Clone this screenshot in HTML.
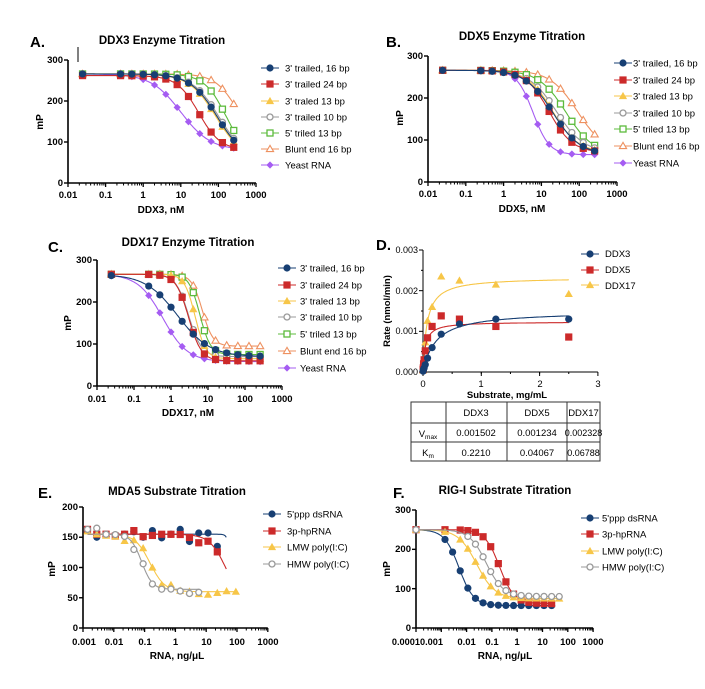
<!DOCTYPE html>
<html><head><meta charset="utf-8"><style>
html,body{margin:0;padding:0;background:#fff;}
svg{display:block;font-family:"Liberation Sans",Arial,sans-serif;}
.t{font-weight:bold;font-size:11.5px;text-anchor:middle;}
.p{font-weight:bold;font-size:15px;}
.yl{font-weight:bold;font-size:9.5px;text-anchor:end;}
.xl{font-weight:bold;font-size:9.5px;text-anchor:middle;}
.ax{font-weight:bold;font-size:10px;text-anchor:middle;}
.lg{font-size:9.5px;}
.tb{font-size:9.5px;text-anchor:middle;}
</style></head><body>
<svg id="s" width="705" height="689" viewBox="0 0 705 689">
<rect width="705" height="689" fill="#fff"/>
<g id="g"></g>
<!-- Panel A -->
<text class="p" x="30" y="47">A.</text>
<text class="t" x="162" y="44">DDX3 Enzyme Titration</text>
<line x1="78" y1="47" x2="78" y2="62" stroke="#000" stroke-width="1"/>
<text class="yl" x="63" y="63">300</text><text class="yl" x="63" y="104">200</text><text class="yl" x="63" y="145">100</text><text class="yl" x="63" y="186">0</text>
<text class="xl" x="68" y="198">0.01</text><text class="xl" x="105.6" y="198">0.1</text><text class="xl" x="143" y="198">1</text><text class="xl" x="181" y="198">10</text><text class="xl" x="218.5" y="198">100</text><text class="xl" x="256" y="198">1000</text>
<text class="ax" x="161" y="213">DDX3, nM</text>
<text class="ax" transform="translate(43,122) rotate(-90)">mP</text>
<text class="lg" x="285" y="71.5">3' trailed, 16 bp</text><text class="lg" x="285" y="87.5">3' trailed 24 bp</text><text class="lg" x="285" y="104.5">3' traled 13 bp</text><text class="lg" x="285" y="120.5">3' trailed 10 bp</text><text class="lg" x="285" y="136.5">5' triled 13 bp</text><text class="lg" x="285" y="152.5">Blunt end 16 bp</text><text class="lg" x="285" y="168.5">Yeast RNA</text>
<!-- Panel B -->
<text class="p" x="386" y="47">B.</text>
<text class="t" x="522" y="40">DDX5 Enzyme Titration</text>
<text class="yl" x="423" y="59">300</text><text class="yl" x="423" y="101">200</text><text class="yl" x="423" y="143">100</text><text class="yl" x="423" y="185">0</text>
<text class="xl" x="428" y="197">0.01</text><text class="xl" x="465.8" y="197">0.1</text><text class="xl" x="503.6" y="197">1</text><text class="xl" x="541.4" y="197">10</text><text class="xl" x="579.2" y="197">100</text><text class="xl" x="617" y="197">1000</text>
<text class="ax" x="522" y="212">DDX5, nM</text>
<text class="ax" transform="translate(403,118) rotate(-90)">mP</text>
<text class="lg" x="633" y="66.5">3' trailed, 16 bp</text><text class="lg" x="633" y="83.5">3' trailed 24 bp</text><text class="lg" x="633" y="99.5">3' traled 13 bp</text><text class="lg" x="633" y="116.5">3' trailed 10 bp</text><text class="lg" x="633" y="132.5">5' triled 13 bp</text><text class="lg" x="633" y="149.5">Blunt end 16 bp</text><text class="lg" x="633" y="166.5">Yeast RNA</text>
<!-- Panel C -->
<text class="p" x="48" y="252">C.</text>
<text class="t" x="188" y="246">DDX17 Enzyme Titration</text>
<text class="yl" x="92" y="263">300</text><text class="yl" x="92" y="305">200</text><text class="yl" x="92" y="347">100</text><text class="yl" x="92" y="389">0</text>
<text class="xl" x="97" y="402">0.01</text><text class="xl" x="134" y="402">0.1</text><text class="xl" x="171" y="402">1</text><text class="xl" x="208" y="402">10</text><text class="xl" x="245" y="402">100</text><text class="xl" x="282" y="402">1000</text>
<text class="ax" x="188" y="416">DDX17, nM</text>
<text class="ax" transform="translate(71,323) rotate(-90)">mP</text>
<text class="lg" x="300" y="271.5">3' trailed, 16 bp</text><text class="lg" x="300" y="288.5">3' trailed 24 bp</text><text class="lg" x="300" y="304.5">3' traled 13 bp</text><text class="lg" x="300" y="320.5">3' trailed 10 bp</text><text class="lg" x="300" y="337.5">5' triled 13 bp</text><text class="lg" x="300" y="354.5">Blunt end 16 bp</text><text class="lg" x="300" y="371.5">Yeast RNA</text>
<!-- Panel D -->
<text class="p" x="376" y="250">D.</text>
<text class="yl" x="418" y="253" style="font-weight:normal;font-size:9px">0.003</text><text class="yl" x="418" y="294" style="font-weight:normal;font-size:9px">0.002</text><text class="yl" x="418" y="334" style="font-weight:normal;font-size:9px">0.001</text><text class="yl" x="418" y="375" style="font-weight:normal;font-size:9px">0.000</text>
<text class="xl" x="423" y="387" style="font-weight:normal">0</text><text class="xl" x="481" y="387" style="font-weight:normal">1</text><text class="xl" x="540" y="387" style="font-weight:normal">2</text><text class="xl" x="598" y="387" style="font-weight:normal">3</text>
<text class="ax" x="507" y="398" style="font-size:9.5px">Substrate, mg/mL</text>
<text class="ax" transform="translate(390,311) rotate(-90)" style="font-size:9.5px">Rate (nmol/min)</text>
<text class="lg" x="605" y="257">DDX3</text><text class="lg" x="605" y="273">DDX5</text><text class="lg" x="605" y="289">DDX17</text>
<g stroke="#333" stroke-width="1" fill="none">
<rect x="411" y="402" width="189" height="59"/>
<line x1="446" y1="402" x2="446" y2="461"/><line x1="507" y1="402" x2="507" y2="461"/><line x1="567" y1="402" x2="567" y2="461"/>
<line x1="411" y1="423" x2="600" y2="423"/><line x1="411" y1="442" x2="600" y2="442"/>
</g>
<text class="tb" x="476" y="416">DDX3</text><text class="tb" x="537" y="416">DDX5</text><text class="tb" x="583.5" y="416">DDX17</text>
<text class="tb" x="428" y="437">V<tspan font-size="6.5" dy="2">max</tspan></text><text class="tb" x="476" y="436">0.001502</text><text class="tb" x="537" y="436">0.001234</text><text class="tb" x="583.5" y="436" style="font-size:9px">0.002328</text>
<text class="tb" x="428" y="456">K<tspan font-size="6.5" dy="2">m</tspan></text><text class="tb" x="476" y="456">0.2210</text><text class="tb" x="537" y="456">0.04067</text><text class="tb" x="583.5" y="456" style="font-size:9px">0.06788</text>
<!-- Panel E -->
<text class="p" x="38" y="498">E.</text>
<text class="t" x="177" y="495">MDA5 Substrate Titration</text>
<text class="yl" x="78" y="510">200</text><text class="yl" x="78" y="540">150</text><text class="yl" x="78" y="571">100</text><text class="yl" x="78" y="601">50</text><text class="yl" x="78" y="631">0</text>
<text class="xl" x="84" y="645">0.001</text><text class="xl" x="114" y="645">0.01</text><text class="xl" x="145" y="645">0.1</text><text class="xl" x="175.5" y="645">1</text><text class="xl" x="206.5" y="645">10</text><text class="xl" x="237" y="645">100</text><text class="xl" x="268" y="645">1000</text>
<text class="ax" x="177" y="659">RNA, ng/μL</text>
<text class="ax" transform="translate(55,569) rotate(-90)">mP</text>
<text class="lg" x="287" y="517.5">5'ppp dsRNA</text><text class="lg" x="287" y="534.5">3p-hpRNA</text><text class="lg" x="287" y="550.5">LMW poly(I:C)</text><text class="lg" x="287" y="567.5">HMW poly(I:C)</text>
<!-- Panel F -->
<text class="p" x="393" y="498">F.</text>
<text class="t" x="505" y="494">RIG-I Substrate Titration</text>
<text class="yl" x="411" y="513">300</text><text class="yl" x="411" y="552">200</text><text class="yl" x="411" y="592">100</text><text class="yl" x="411" y="631">0</text>
<text class="xl" x="420" y="645" style="text-anchor:end;font-size:9.2px">0.0001</text><text class="xl" x="420" y="645" style="text-anchor:start;font-size:9.2px">0.001</text><text class="xl" x="466.6" y="645">0.01</text><text class="xl" x="492" y="645">0.1</text><text class="xl" x="517" y="645">1</text><text class="xl" x="542.6" y="645">10</text><text class="xl" x="568" y="645">100</text><text class="xl" x="593" y="645">1000</text>
<text class="ax" x="505" y="659">RNA, ng/μL</text>
<text class="ax" transform="translate(390,569) rotate(-90)">mP</text>
<text class="lg" x="602" y="521.5">5'ppp dsRNA</text><text class="lg" x="602" y="537.5">3p-hpRNA</text><text class="lg" x="602" y="554.5">LMW poly(I:C)</text><text class="lg" x="602" y="570.5">HMW poly(I:C)</text>
</svg>
<script>
var G=document.getElementById('g'),NS='http://www.w3.org/2000/svg';
function el(t,a){var e=document.createElementNS(NS,t);for(var k in a)e.setAttribute(k,a[k]);G.appendChild(e);return e;}
var C={nv:'#173f73',rd:'#cc2a2a',yl:'#f7c648',gy:'#9a9a9a',gn:'#5cbb3c',or:'#ee9160',pu:'#a55cf2'};
function mk(t,x,y,c){var r=3.6;
 if(t=='c')el('circle',{cx:x,cy:y,r:r,fill:c});
 else if(t=='oc')el('circle',{cx:x,cy:y,r:r-0.6,fill:'#fff',stroke:c,'stroke-width':1.3});
 else if(t=='s')el('rect',{x:x-r,y:y-r,width:2*r,height:2*r,fill:c});
 else if(t=='os')el('rect',{x:x-r+0.6,y:y-r+0.6,width:2*r-1.2,height:2*r-1.2,fill:'#fff',stroke:c,'stroke-width':1.3});
 else if(t=='t')el('polygon',{points:(x)+','+(y-r-0.5)+' '+(x-r-0.5)+','+(y+r-0.5)+' '+(x+r+0.5)+','+(y+r-0.5),fill:c});
 else if(t=='ot')el('polygon',{points:(x)+','+(y-r)+' '+(x-r)+','+(y+r-1)+' '+(x+r)+','+(y+r-1),fill:'#fff',stroke:c,'stroke-width':1.1});
 else if(t=='d')el('polygon',{points:x+','+(y-r)+' '+(x+r)+','+y+' '+x+','+(y+r)+' '+(x-r)+','+y,fill:c});
}
function axes(P){
 var xe=P.x0+(P.maxL-P.minL)*P.dec;
 el('line',{x1:P.x0,y1:P.y0,x2:xe,y2:P.y0,stroke:'#000','stroke-width':1.6});
 el('line',{x1:P.x0,y1:P.yT,x2:P.x0,y2:P.y0,stroke:'#000','stroke-width':1.6});
 P.yt.forEach(function(v){var y=P.y0-(P.y0-P.yT)*v/P.yM;el('line',{x1:P.x0-4,y1:y,x2:P.x0,y2:y,stroke:'#000','stroke-width':1.4});});
 for(var L=P.minL;L<=P.maxL;L++){var x=P.x0+(L-P.minL)*P.dec;el('line',{x1:x,y1:P.y0,x2:x,y2:P.y0+4,stroke:'#000','stroke-width':1.3});
  if(L<P.maxL)for(var m=2;m<10;m++){var xm=x+Math.log10(m)*P.dec;el('line',{x1:xm,y1:P.y0,x2:xm,y2:P.y0+2.5,stroke:'#000','stroke-width':1});}}
}
function px(P,v){return P.x0+(Math.log10(v)-P.minL)*P.dec;}
function py(P,v){return P.y0-(P.y0-P.yT)*v/P.yM;}
function series(P,xs,s){
 var f=function(x){return s.b+(s.top-s.b)/(1+Math.pow(x/s.ic,s.h));};
 var l0=Math.log10(s.cx0||xs[0]),l1=Math.log10(s.cx1||xs[xs.length-1]),d='';
 for(var i=0;i<=120;i++){var x=Math.pow(10,l0+(l1-l0)*i/120);d+=(i?'L':'M')+px(P,x).toFixed(1)+','+py(P,f(x)).toFixed(1);}
 el('path',{d:d,fill:'none',stroke:C[s.c],'stroke-width':1.1});
 xs.forEach(function(x,i){if(s.skip&&s.skip.indexOf(i)>=0)return;var v=f(x)+(s.n?s.n[i]||0:0);mk(s.m,px(P,x),py(P,v),C[s.c]);});
}
function legend(x,ys,list){list.forEach(function(s,i){el('line',{x1:x-9,y1:ys[i],x2:x+9,y2:ys[i],stroke:C[s.c],'stroke-width':1.1});mk(s.m,x,ys[i],C[s.c]);});}
var xsT=[0.0244,0.25,0.5,1,2,4,8,16,32,64,128,256];
var styl=[{c:'nv',m:'c'},{c:'rd',m:'s'},{c:'yl',m:'t'},{c:'gy',m:'oc'},{c:'gn',m:'os'},{c:'or',m:'ot'},{c:'pu',m:'d'}];
function mix(a,b){var o={};for(var k in a)o[k]=a[k];for(k in b)o[k]=b[k];return o;}
// A
var A={x0:68,dec:37.6,minL:-2,maxL:3,y0:183,yT:60,yM:300,yt:[0,100,200,300]};axes(A);
[[55,95,1.2],[80,30,1.5],[55,88,1.2],[55,105,1.2],[60,160,1.5],[100,300,1.5],[80,10,1.1]].reverse().forEach(function(p,j){var i=6-j;series(A,xsT,mix(styl[i],{top:i==1?262:266,b:p[0],ic:p[1],h:p[2]}));});
legend(270,[68,84,101,117,133,149,165],styl);
// B
var B={x0:428,dec:37.8,minL:-2,maxL:3,y0:182,yT:56,yM:300,yt:[0,100,200,300]};axes(B);
[[65,20,1.2],[70,16,1.4],[70,20,1.3],[70,25,1.2],[65,45,1.2],[70,90,1.2],[65,6,2]].reverse().forEach(function(p,j){var i=6-j;series(B,xsT,mix(styl[i],{top:266,b:p[0],ic:p[1],h:p[2]}));});
legend(623,[63,80,96,113,129,146,163],styl);
// C
var Cc={x0:97,dec:37,minL:-2,maxL:3,y0:386,yT:260,yM:300,yt:[0,100,200,300]};axes(Cc);
[[70,1.5,1.0],[60,3,2.5],[65,4.5,3],[70,3,2.5],[75,6,3],[95,7,3],[58,0.6,1.3]].reverse().forEach(function(p,j){var i=6-j;series(Cc,xsT,mix(styl[i],{top:266,b:p[0],ic:p[1],h:p[2]}));});
legend(287,[268,285,301,317,334,351,368],styl);
// D
(function(){var x0=423,y0=372,yT=250,sx=58.3,sy=(y0-yT)/0.003;
 el('line',{x1:x0,y1:y0,x2:x0+3*sx,y2:y0,stroke:'#000','stroke-width':1});el('line',{x1:x0,y1:yT,x2:x0,y2:y0,stroke:'#000','stroke-width':1});
 [0,1,2,3].forEach(function(v){el('line',{x1:x0+v*sx,y1:y0,x2:x0+v*sx,y2:y0+4,stroke:'#000'});});
 [0,0.5,1,1.5,2,2.5].forEach(function(v){el('line',{x1:x0+v*sx,y1:y0,x2:x0+v*sx,y2:y0+2,stroke:'#000'});});
 [0,0.001,0.002,0.003].forEach(function(v){el('line',{x1:x0-4,y1:y0-v*sy,x2:x0,y2:y0-v*sy,stroke:'#000'});});
 [0,0.0005,0.0015,0.0025].forEach(function(v){el('line',{x1:x0-2,y1:y0-v*sy,x2:x0,y2:y0-v*sy,stroke:'#000'});});
 var xs=[0.0024,0.0049,0.0098,0.0195,0.039,0.078,0.156,0.3125,0.625,1.25,2.5];
 var S=[{c:'yl',m:'t',V:0.002328,K:0.068,d:[0.00004,0.00008,0.00015,0.0003,0.00073,0.00126,0.0016,0.00235,0.00225,0.00215,0.00192]},
        {c:'rd',m:'s',V:0.001234,K:0.0407,d:[0.00006,0.0001,0.0002,0.0003,0.00052,0.00084,0.00112,0.00138,0.0013,0.00112,0.00086]},
        {c:'nv',m:'c',V:0.001502,K:0.221,d:[0.00002,0.00003,0.00007,0.0001,0.00018,0.00034,0.0006,0.00093,0.00118,0.0013,0.0013]}];
 S.forEach(function(s){var d='';for(var i=0;i<=200;i++){var x=2.5*i/200;var v=s.V*x/(s.K+x);d+=(i?'L':'M')+(x0+x*sx).toFixed(1)+','+(y0-v*sy).toFixed(1);}
  el('path',{d:d,fill:'none',stroke:C[s.c],'stroke-width':1.1});
  xs.forEach(function(x,i){mk(s.m,x0+x*sx,y0-s.d[i]*sy,C[s.c]);});});
 legend(590,[254,270,285],[{c:'nv',m:'c'},{c:'rd',m:'s'},{c:'yl',m:'t'}]);
})();
// E
var E={x0:83,dec:30.8,minL:-3,maxL:3,y0:628,yT:507,yM:200,yt:[0,50,100,150,200]};axes(E);
var xsE=[];for(var k=0;k<17;k++)xsE.push(0.0014*Math.pow(2,k));
var sE=[{c:'nv',m:'c',top:155,b:100,ic:60,h:8,n:[7,-5,0,-1,0,4,-5,6,-6,0,8,-12,2,2,-20],cx1:45},
 {c:'rd',m:'s',top:155,b:40,ic:45,h:1.6,n:[8,0,0,-3,0,6,-4,-2,0,0,0,-4,-10,0,0,0],cx1:45},
 {c:'yl',m:'t',top:155,b:60,ic:0.15,h:1.8,n:[5,0,-2,-3,-8,0,4,0,-5,6,0,0,-4,-5,-2,1,0]},
 {c:'gy',m:'oc',top:155,b:64,ic:0.08,h:2.5,n:[8,10,0,0,0,-8,3,-2,-2,0,-3,-7,-5,22],cx1:6}];
sE.forEach(function(s){var xs=xsE.filter(function(x){return x<=(s.cx1||100)*1.01;});series(E,xs,s);});
legend(272,[514,531,547,564],sE);
// F
var F={x0:416,dec:25.3,minL:-4,maxL:3,y0:628,yT:510,yM:300,yt:[0,100,200,300]};axes(F);
var xsF=[0.0001];for(k=0;k<16;k++)xsF.push(0.0014*Math.pow(2,k));
var sF=[{c:'nv',m:'c',top:250,b:57,ic:0.005,h:1.5},{c:'rd',m:'s',top:250,b:62,ic:0.2,h:1.5,skip:[2]},
 {c:'yl',m:'t',top:250,b:75,ic:0.025,h:1.2,skip:[2]},{c:'gy',m:'oc',top:250,b:80,ic:0.06,h:1.3,skip:[1,2,3]}];
sF.forEach(function(s){var xs=s.c=='nv'||s.c=='rd'?xsF.slice(0,16):xsF;series(F,xs,s);});
legend(590,[518,534,551,567],sF);
</script>
</body></html>
